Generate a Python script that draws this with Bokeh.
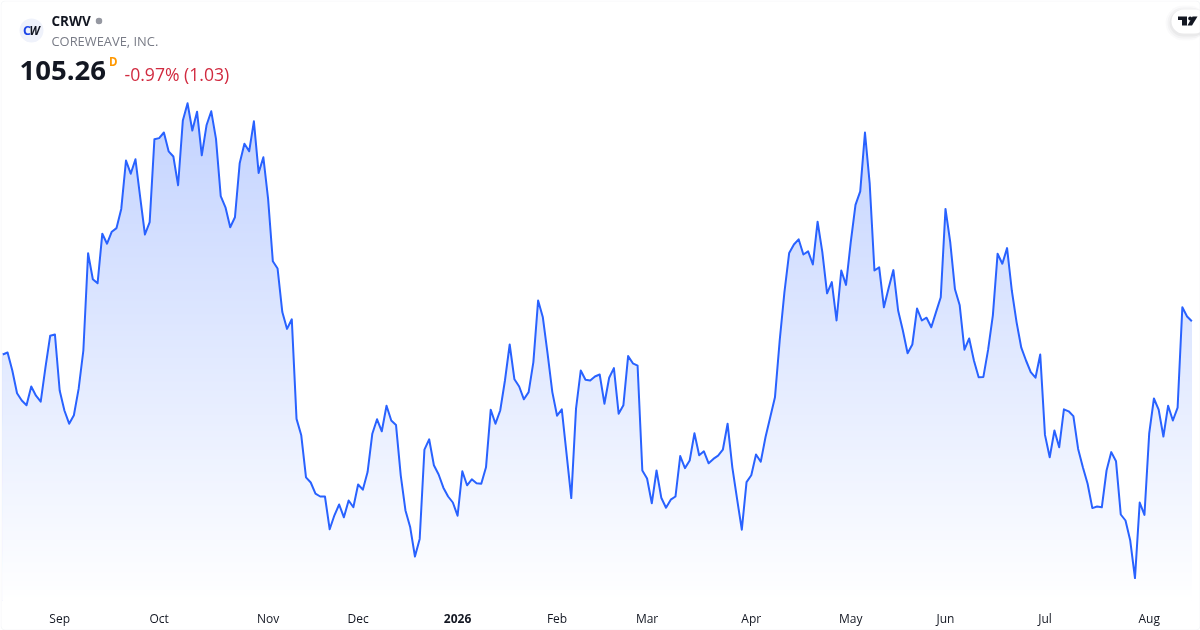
from bokeh.plotting import figure
from bokeh.models import Label, BoxAnnotation, Range1d, FixedTicker, LinearAxis
from bokeh.embed import file_html
from bokeh.resources import INLINE

# Daily closes (no price axis is shown)
closes_1 = [96.5, 97.0, 92.5, 86.8, 85.0, 83.8, 88.5, 86.2, 84.7, 93.3, 101.2, 101.5, 87.5, 82.5, 79.2, 81.3,
            87.9, 97.5, 121.8, 115.3, 114.3, 126.7, 124.2, 127.2, 128.1, 132.9, 145.0, 141.7, 145.3, 135.8,
            126.5, 129.6, 150.3, 150.6, 152.0, 147.3, 146.0, 138.8, 155.0, 159.3, 152.5, 157.2, 146.3, 153.8,
            157.3, 150.4, 136.1, 133.3, 128.3, 130.8, 144.3, 149.2, 147.3, 154.8, 141.9, 145.8, 135.4, 119.8,
            118.0, 107.1, 102.9, 105.3, 80.4]
closes_2 = [76.3, 65.8, 64.5, 61.7, 61.0, 61.0, 52.8, 56.3, 59.0, 55.8, 60.0, 58.3, 64.0, 62.7, 67.1, 76.7,
            80.3, 77.3, 83.7, 80.0, 78.9, 66.3, 57.5, 53.3, 46.0, 50.4, 72.7, 75.3, 68.8, 66.5, 63.2, 61.0,
            59.5, 56.2, 67.3, 63.8, 65.3, 64.3, 64.2, 68.3, 82.7, 79.2, 82.5, 90.0, 99.0, 90.3, 88.5, 85.3,
            87.1, 94.6, 110.0, 105.8, 96.7, 87.1, 81.2, 82.8, 71.7, 60.6, 82.9, 92.5]
closes_3 = [90.2, 90.0, 91.0, 91.5, 84.2, 90.7, 93.1, 81.7, 83.8, 96.1, 94.3, 93.7, 67.5, 65.5, 59.3, 67.5,
            60.7, 58.2, 60.2, 61.0, 71.1, 68.1, 70.0, 76.8, 71.3, 72.3, 69.3, 70.4, 71.2, 72.7, 79.2, 68.3,
            60.4, 52.7, 64.6, 66.3, 71.5, 69.7, 75.8, 80.8]
closes_4 = [85.8, 100.0, 112.1, 121.9, 124.0, 125.3, 121.5, 122.3, 119.0, 129.7, 122.1, 111.8, 114.6, 105.0,
            117.5, 113.9, 124.6, 133.9, 137.3, 152.0, 139.2, 117.5, 118.3, 108.3, 113.1, 117.6, 107.5, 102.5,
            96.8, 99.0, 108.0, 105.0, 105.7, 103.3, 107.1, 110.8, 132.9, 124.6, 112.8, 108.8, 97.7, 100.5,
            95.0, 90.8, 90.9, 97.7, 106.3, 121.7, 119.2, 123.1, 112.5, 104.6, 98.2, 95.0, 92.1, 90.7, 96.5]
closes_5 = [76.4, 70.8, 77.5, 73.3, 82.8, 82.3, 81.1, 72.9, 68.3, 64.2, 58.1, 58.5, 58.3, 67.5, 72.1, 69.8,
            56.5, 55.0, 50.0, 40.6, 59.5, 56.4, 76.7, 85.5, 82.7, 76.0, 83.7, 80.0, 83.2, 108.3, 106.0, 104.8]
closes = closes_1 + closes_2 + closes_3 + closes_4 + closes_5

tick_positions = [12, 33, 56, 75, 117, 136, 158, 179, 199, 220, 242]
tick_labels = ["Sep", "Oct", "Nov", "Dec", "Feb", "Mar", "Apr", "May", "Jun", "Jul", "Aug"]
year_positions = [96]
year_labels = ["2026"]

symbol = "CRWV"
company = "COREWEAVE, INC."
last_price = "105.26"
change = "-0.97% (1.03)"

W, H = 1200, 630
X0, DX = 2.33, 4.737
Y_TOP, PER_PX = 185.0, 0.25


def px(x):
    return (x - X0) / DX


def py(y):
    return Y_TOP - y * PER_PX


xs = list(range(len(closes)))
x_end = xs[-1]
y_fill_bottom = py(600)

p = figure(width=W, height=H, output_backend="svg", toolbar_location=None,
           x_range=Range1d(px(0), px(W)), y_range=Range1d(py(H), Y_TOP),
           min_border=0, x_axis_location=None, y_axis_location=None,
           background_fill_color="white", border_fill_color="white")
p.styles = {"position": "fixed", "left": "0", "top": "0"}
p.grid.visible = False
p.outline_line_color = None

# vertical gradient below the line: tallest band first, then the area above the line is masked
TOP_PX, BOT_PX, STEP = 103, 600, 2
tops, cols = [], []
for y in range(TOP_PX - 2, BOT_PX, STEP):
    a = 0.28 * (BOT_PX - y) / (BOT_PX - TOP_PX)
    r = round(255 - (255 - 41) * a)
    g = round(255 - (255 - 98) * a)
    tops.append(py(y))
    cols.append(f"#{r:02x}{g:02x}ff")
p.quad(left=xs[0], right=x_end, top=tops, bottom=y_fill_bottom, fill_color=cols, line_color=None)
p.varea(x=xs, y1=closes, y2=Y_TOP, fill_color="white")
# cover the hairline that the mask's vertical edges leave at both ends of the series
p.quad(left=[px(0), x_end - 0.2], right=[xs[0] + 0.2, px(W)], top=Y_TOP,
       bottom=[closes[0] + 0.5, closes[-1] + 0.5], fill_color="white", line_color=None)
p.line(xs, closes, line_color="#2962FF", line_width=2, line_join="round")


def time_axis(positions, labels, style, location):
    ax = LinearAxis(fixed_location=py(location))
    ax.ticker = FixedTicker(ticks=positions)
    ax.major_label_overrides = dict(zip(positions, labels))
    ax.axis_line_color = None
    ax.major_tick_line_color = None
    ax.minor_tick_line_color = None
    ax.major_label_standoff = 0
    ax.major_label_text_font = "Open Sans"
    ax.major_label_text_font_size = "12px"
    ax.major_label_text_font_style = style
    ax.major_label_text_color = "#131722"
    p.add_layout(ax, "below")


time_axis(tick_positions, tick_labels, "normal", 603.5)
time_axis(year_positions, year_labels, "bold", 607.5)


def label(x, y, text, size, color, style="normal", align="left"):
    p.add_layout(Label(x=px(x), y=py(y), text=text, text_font="Open Sans", text_font_size=size,
                       text_color=color, text_font_style=style, text_align=align, text_baseline="middle"))


label(51, 20, symbol, "13.5px", "#131722", "bold")
p.scatter(x=[px(98.5)], y=[py(20.5)], size=6.5, fill_color="#9598A1", line_color=None)
label(51, 40, company, "12.9px", "#787B86")
label(19, 70, last_price, "27.5px", "#131722", "bold")
label(108.5, 61, "D", "11.5px", "#FF9800", "bold")
label(124, 73, change, "17.6px", "#D12B40")

# company badge
p.scatter(x=[px(31)], y=[py(30)], size=24, fill_color="#EFF2FB", line_color=None)
label(22.5, 29.5, "C", "12.5px", "#1B45E8", "bold")
label(29, 29.5, "W", "11.5px", "#131722", "bold italic")

# TradingView attribution
for grow, alpha in [(6, 0.02), (4, 0.03), (2, 0.04)]:
    p.add_layout(BoxAnnotation(left=px(1171 - grow), right=px(1206), top=py(9 - grow + 2), bottom=py(33 + grow + 1),
                               fill_color="#131722", fill_alpha=alpha, line_color=None, border_radius=12 + grow))
p.add_layout(BoxAnnotation(left=px(1171), right=px(1206), top=py(9), bottom=py(33), fill_color="white",
                           fill_alpha=1, line_color=None, border_radius=12))
tv_x = [[1177.5, 1186.5, 1186.5, 1181.5, 1181.5, 1177.5], [1192, 1197, 1191.5, 1187]]
tv_y = [[16, 16, 25, 25, 19.5, 19.5], [16, 16, 25, 25]]
p.patches([[px(v) for v in r] for r in tv_x], [[py(v) for v in r] for r in tv_y], fill_color="#131722",
          line_color=None, level="overlay")
p.scatter(x=[px(1189.7)], y=[py(18)], size=4, fill_color="#131722", line_color=None, level="overlay")

# card border
p.add_layout(BoxAnnotation(left=px(0.5), right=px(W - 0.5), top=py(0.5), bottom=py(H - 0.5), fill_alpha=0,
                           line_color="#E0E3EB", line_width=1, border_radius=4))

open("out.html", "w").write(file_html(p, INLINE))
